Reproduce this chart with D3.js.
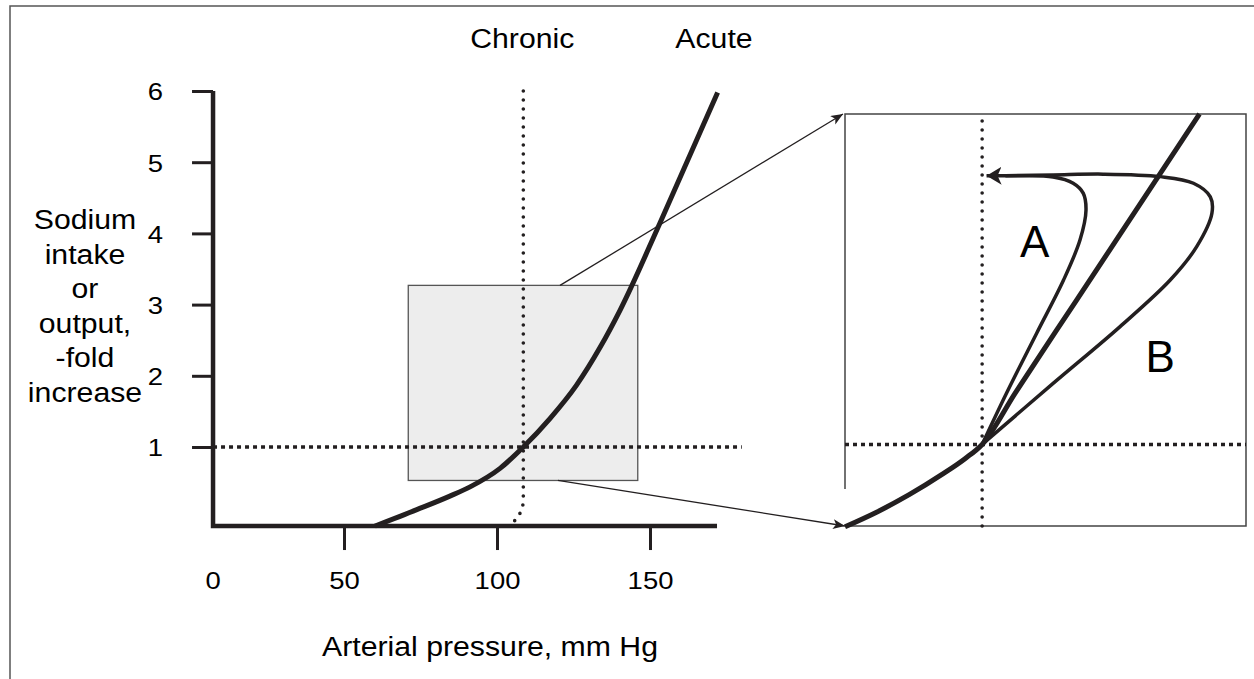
<!DOCTYPE html>
<html>
<head>
<meta charset="utf-8">
<script src="https://cdn.jsdelivr.net/npm/d3@7"></script>
<style>
  body { margin: 0; background: #fff; }
  svg { display: block; font-family: "Liberation Sans", Arial, Helvetica, sans-serif; }
</style>
</head>
<body>
<svg id="chart" width="1254" height="679"></svg>
<script>

// axis ticks
const Y_TICKS = [1, 2, 3, 4, 5, 6];
const X_TICKS = [50, 100, 150];
const Y_LABEL = ['Sodium', 'intake', 'or', 'output,', '-fold', 'increase'];

// main panel curves, [mm Hg, fold increase]
const acute = [[60.1, -0.11], [73.8, 0.12], [84.6, 0.31], [91.2, 0.44], [101, 0.70], [108.6, 1.0],
               [117.3, 1.40], [126, 1.87], [133.7, 2.40], [140.2, 2.92], [153.3, 4.15], [172.1, 5.98]];
const chronic = [[108.6, 6], [108.6, 0.3], [108.4, 0.17], [107.4, 0.06], [105.9, -0.03], [103.6, -0.1]];
const zoom_box = [71, 146, 0.53, 3.27];   // x0, x1, y0, y1
const ref_line = [[7.2, 1], [180, 1]];

// inset curves, inset units 0..100
const inset_acute = [[0, -0.2], [8, 3.4], [16, 7.6], [24, 12.4], [30, 16.4], [34.2, 19.8], [42.4, 32.2],
                     [57.8, 54.9], [78.1, 84.8], [88.4, 100]];
const loop_a = [[34.2, 19.8], [40.3, 32.3], [47.8, 46.8], [54.5, 59.7], [58.6, 69.4], [60.1, 76.7],
                [59.4, 80.8], [56.9, 83.2], [51.9, 84.7], [43.6, 85], [35.3, 85]];
const loop_b = [[34.2, 19.8], [51.9, 34.6], [68.6, 48.4], [81.1, 59.7], [87.7, 67.8], [91.5, 75.9],
                [91.1, 79.9], [86.9, 83.2], [78.6, 84.8], [64.4, 85.4], [51.9, 85.2], [40, 85]];
const inset_cross = [34.2, 19.8];

const X_ORIGIN = 7.2;
const X_END = 171.9;
const Y_FLOOR = -0.11;
const INK = '#231f20';
const SX = 1.12;   // the source lettering is a little wide

const svg = d3.select('#chart');

const x = d3.scaleLinear().domain([50, 150]).range([344, 650]);
const y = d3.scaleLinear().domain([1, 6]).range([447, 91]);
const ix = d3.scaleLinear().domain([0, 100]).range([845, 1246]);
const iy = d3.scaleLinear().domain([0, 100]).range([526, 114]);

const line = d3.line().x(d => x(d[0])).y(d => y(d[1]));
const iline = d3.line().x(d => ix(d[0])).y(d => iy(d[1]));

function stretch(sel) {
  sel.attr('transform', function () {
    const tx = +d3.select(this).attr('x') || 0;
    return 'translate(' + tx + ',0) scale(' + SX + ',1) translate(' + (-tx) + ',0)';
  });
}

// markers
const defs = svg.append('defs');
defs.append('marker')
  .attr('id', 'thin_arrow').attr('markerUnits', 'userSpaceOnUse')
  .attr('markerWidth', 14).attr('markerHeight', 12)
  .attr('refX', 12).attr('refY', 5).attr('orient', 'auto')
  .append('path').attr('d', 'M0,0 L12,5 L0,10 L3,5 Z').attr('fill', INK);
defs.append('marker')
  .attr('id', 'loop_arrow').attr('markerUnits', 'userSpaceOnUse')
  .attr('markerWidth', 18).attr('markerHeight', 20)
  .attr('refX', 15).attr('refY', 9).attr('orient', 'auto')
  .append('path').attr('d', 'M0,0 L15,9 L0,18 L4,9 Z').attr('fill', INK);

// frame
svg.append('path')
  .attr('d', 'M10,679 V6 H1254')
  .attr('fill', 'none').attr('stroke', '#555').attr('stroke-width', 1.5);

// zoom box
svg.append('rect')
  .attr('x', x(zoom_box[0])).attr('y', y(zoom_box[3]))
  .attr('width', x(zoom_box[1]) - x(zoom_box[0]))
  .attr('height', y(zoom_box[2]) - y(zoom_box[3]))
  .attr('fill', '#ededed').attr('stroke', '#555').attr('stroke-width', 1.3);

// connectors to inset
svg.append('line')
  .attr('x1', x(120.6)).attr('y1', y(zoom_box[3]))
  .attr('x2', ix(0) - 2).attr('y2', iy(100))
  .attr('stroke', INK).attr('stroke-width', 1.3).attr('marker-end', 'url(#thin_arrow)');
svg.append('line')
  .attr('x1', x(119.9)).attr('y1', y(zoom_box[2]))
  .attr('x2', ix(0)).attr('y2', iy(0))
  .attr('stroke', INK).attr('stroke-width', 1.3).attr('marker-end', 'url(#thin_arrow)');

// reference lines
svg.append('path').attr('d', line(ref_line))
  .attr('fill', 'none').attr('stroke', INK).attr('stroke-width', 3.5)
  .attr('stroke-dasharray', '4 4');
svg.append('path').attr('d', line.curve(d3.curveMonotoneY)(chronic))
  .attr('fill', 'none').attr('stroke', INK).attr('stroke-width', 3.6)
  .attr('stroke-linecap', 'round').attr('stroke-dasharray', '0 9');

svg.append('path').attr('d', line.curve(d3.curveMonotoneX)(acute))
  .attr('fill', 'none').attr('stroke', INK).attr('stroke-width', 5);

// axes
const y_axis = svg.append('g')
  .attr('transform', 'translate(' + x(X_ORIGIN) + ',0)')
  .call(d3.axisLeft(y).tickValues(Y_TICKS).tickFormat(d3.format('d'))
    .tickSize(21).tickSizeOuter(0).tickPadding(0));
y_axis.select('.domain').remove();
y_axis.selectAll('.tick line').attr('stroke', INK).attr('stroke-width', 3);
y_axis.selectAll('.tick text')
  .attr('x', -50).attr('dy', '0.36em')
  .attr('font-size', 24.5).attr('fill', '#000').attr('font-family', null)
  .call(stretch);

const x_axis = svg.append('g')
  .attr('transform', 'translate(0,' + y(Y_FLOOR) + ')')
  .call(d3.axisBottom(x).tickValues(X_TICKS).tickFormat(d3.format('d'))
    .tickSize(24).tickSizeOuter(0));
x_axis.select('.domain').remove();
x_axis.selectAll('.tick line').attr('stroke', INK).attr('stroke-width', 3);
x_axis.selectAll('.tick text')
  .attr('y', 63).attr('dy', null)
  .attr('font-size', 24.5).attr('fill', '#000').attr('font-family', null)
  .call(stretch);

// axis lines
svg.append('path')
  .attr('d', 'M' + x(X_END) + ',' + y(Y_FLOOR) + 'H' + x(X_ORIGIN) + 'V' + y(6))
  .attr('fill', 'none').attr('stroke', INK).attr('stroke-width', 4.5);

svg.append('text')
  .attr('x', x(X_ORIGIN)).attr('y', y(Y_FLOOR) + 63)
  .attr('text-anchor', 'middle').attr('font-size', 24.5)
  .text('0').call(stretch);

svg.append('text')
  .attr('x', 490).attr('y', 656)
  .attr('text-anchor', 'middle').attr('font-size', 27)
  .text('Arterial pressure, mm Hg').call(stretch);

svg.selectAll('.ylab')
  .data(Y_LABEL)
  .join('text')
  .attr('class', 'ylab')
  .attr('x', 85).attr('y', (d, i) => 229 + i * 34.6)
  .attr('text-anchor', 'middle').attr('font-size', 27)
  .text(d => d).call(stretch);

svg.append('text')
  .attr('x', x(108.6) - 1).attr('y', 48)
  .attr('text-anchor', 'middle').attr('font-size', 27)
  .text('Chronic').call(stretch);
svg.append('text')
  .attr('x', 714).attr('y', 48)
  .attr('text-anchor', 'middle').attr('font-size', 27)
  .text('Acute').call(stretch);

// inset panel
const inset = svg.append('g');
inset.append('path')
  .attr('d', 'M' + ix(0) + ',' + iy(9) + 'V' + iy(100) + 'H' + ix(100) + 'V' + iy(0) + 'H' + ix(0))
  .attr('fill', 'none').attr('stroke', '#444').attr('stroke-width', 1.5);

inset.append('line')
  .attr('x1', ix(inset_cross[0])).attr('x2', ix(inset_cross[0]))
  .attr('y1', iy(0)).attr('y2', iy(100))
  .attr('stroke', INK).attr('stroke-width', 3.6)
  .attr('stroke-linecap', 'round').attr('stroke-dasharray', '0 9');
inset.append('line')
  .attr('x1', ix(0)).attr('x2', ix(100))
  .attr('y1', iy(inset_cross[1])).attr('y2', iy(inset_cross[1]))
  .attr('stroke', INK).attr('stroke-width', 3.5)
  .attr('stroke-dasharray', '4 4');

const loop_line = iline.curve(d3.curveCatmullRom.alpha(0.5));
inset.append('path').attr('d', loop_line(loop_b))
  .attr('fill', 'none').attr('stroke', INK).attr('stroke-width', 3.5);
inset.append('path').attr('d', loop_line(loop_a))
  .attr('fill', 'none').attr('stroke', INK).attr('stroke-width', 3.5)
  .attr('marker-end', 'url(#loop_arrow)');
inset.append('path').attr('d', iline.curve(d3.curveMonotoneX)(inset_acute))
  .attr('fill', 'none').attr('stroke', INK).attr('stroke-width', 5);

inset.append('text')
  .attr('x', ix(47.3)).attr('y', iy(65.3))
  .attr('text-anchor', 'middle').attr('font-size', 44)
  .text('A');
inset.append('text')
  .attr('x', ix(78.6)).attr('y', iy(37.5))
  .attr('text-anchor', 'middle').attr('font-size', 44)
  .text('B');

</script>
</body>
</html>
